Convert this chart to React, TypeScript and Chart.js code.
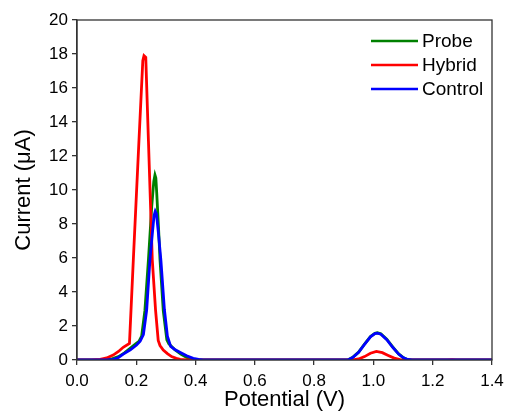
import React, { useEffect, useRef } from "react";
import { Chart, registerables } from "chart.js";

Chart.register(...registerables);

// ---- Data ----
const seriesNames = ["Probe", "Hybrid", "Control"];
const seriesColors = ["#008000", "#ff0000", "#0000ff"];

const probeX = [0, 0.05, 0.08, 0.10, 0.12, 0.14, 0.16, 0.18, 0.20, 0.209, 0.218, 0.229, 0.241, 0.252, 0.259, 0.263, 0.266, 0.269, 0.275, 0.28, 0.291, 0.303, 0.31, 0.33, 0.35, 0.37, 0.39, 0.41, 0.43, 0.9, 0.915, 0.93, 0.95, 0.97, 0.99, 1.005, 1.013, 1.025, 1.045, 1.065, 1.085, 1.10, 1.115, 1.13, 1.4];
const probeY = [0, 0, 0.01, 0.03, 0.08, 0.2, 0.42, 0.7, 0.98, 1.1, 1.4, 2.9, 5.9, 9.0, 10.5, 10.88, 10.7, 9.8, 7.8, 5.9, 2.9, 1.18, 0.95, 0.6, 0.35, 0.15, 0.05, 0.01, 0, 0, 0.02, 0.16, 0.46, 0.94, 1.38, 1.57, 1.6, 1.54, 1.22, 0.77, 0.36, 0.15, 0.03, 0, 0];

const hybridX = [0, 0.05, 0.078, 0.10, 0.122, 0.14, 0.156, 0.177, 0.19, 0.209, 0.222, 0.226, 0.232, 0.241, 0.254, 0.265, 0.274, 0.28, 0.291, 0.305, 0.319, 0.335, 0.348, 0.37, 0.39, 0.93, 0.95, 0.97, 0.99, 1.01, 1.03, 1.05, 1.07, 1.09, 1.10, 1.25, 1.265, 1.28, 1.4];
const hybridY = [0, 0.01, 0.04, 0.12, 0.29, 0.5, 0.75, 0.98, 5.88, 12.9, 17.6, 17.9, 17.8, 12.9, 5.88, 2.94, 1.15, 0.85, 0.59, 0.38, 0.2, 0.1, 0.04, 0.01, 0, 0, 0.06, 0.2, 0.4, 0.5, 0.43, 0.27, 0.11, 0.02, 0, 0, 0.02, 0, 0];

const controlX = [0, 0.08, 0.10, 0.123, 0.14, 0.156, 0.18, 0.201, 0.213, 0.224, 0.235, 0.246, 0.255, 0.26, 0.264, 0.268, 0.275, 0.283, 0.295, 0.305, 0.316, 0.33, 0.347, 0.37, 0.392, 0.41, 0.425, 0.9, 0.915, 0.93, 0.95, 0.97, 0.99, 1.005, 1.013, 1.025, 1.045, 1.065, 1.085, 1.10, 1.115, 1.13, 1.4];
const controlY = [0, 0, 0.01, 0.04, 0.15, 0.35, 0.6, 0.88, 1.1, 1.5, 2.94, 5.88, 7.6, 8.5, 8.75, 8.6, 7.4, 5.88, 2.94, 1.4, 0.8, 0.62, 0.46, 0.25, 0.1, 0.03, 0, 0, 0.02, 0.15, 0.45, 0.92, 1.36, 1.55, 1.58, 1.52, 1.2, 0.75, 0.35, 0.14, 0.03, 0, 0];

const xTicks = [0, 0.2, 0.4, 0.6, 0.8, 1.0, 1.2, 1.4];
const yTicks = [0, 2, 4, 6, 8, 10, 12, 14, 16, 18, 20];

const xTitle = "Potential (V)";
const yTitle = "Current (\u03bcA)";

const FONT = "Arial, 'Liberation Sans', sans-serif";

function pts(xs: number[], ys: number[]) {
  return xs.map((x, i) => ({ x, y: ys[i] }));
}

const framePlugin = {
  id: "frame",
  afterDraw(chart: any) {
    const { ctx, chartArea } = chart;
    ctx.save();
    ctx.strokeStyle = "#333";
    ctx.lineWidth = 1.3;
    ctx.strokeRect(chartArea.left, chartArea.top, chartArea.right - chartArea.left, chartArea.bottom - chartArea.top);
    ctx.restore();
  },
};

const legendPlugin = {
  id: "customLegend",
  afterDraw(chart: any) {
    const { ctx } = chart;
    ctx.save();
    ctx.font = `19px ${FONT}`;
    ctx.textBaseline = "middle";
    ctx.textAlign = "left";
    chart.data.datasets.forEach((ds: any, i: number) => {
      const y = 41 + i * 24;
      ctx.strokeStyle = ds.borderColor;
      ctx.lineWidth = 2.5;
      ctx.beginPath();
      ctx.moveTo(371, y);
      ctx.lineTo(418, y);
      ctx.stroke();
      ctx.fillStyle = "#000";
      ctx.fillText(ds.label, 422, y + 1);
    });
    ctx.restore();
  },
};

export default function App() {
  const ref = useRef<HTMLCanvasElement | null>(null);

  useEffect(() => {
    document.body.style.margin = "0";
    const canvas = ref.current;
    if (!canvas) return;
    const xsList = [probeX, hybridX, controlX];
    const ysList = [probeY, hybridY, controlY];
    const chart = new Chart(canvas, {
      type: "scatter",
      data: {
        datasets: seriesNames.map((name, i) => ({
          label: name,
          data: pts(xsList[i], ysList[i]),
          showLine: true,
          borderColor: seriesColors[i],
          backgroundColor: seriesColors[i],
          borderWidth: 2.8,
          pointRadius: 0,
          tension: 0,
          order: 2 - i,
        })),
      },
      options: {
        animation: false,
        responsive: false,
        devicePixelRatio: 1,
        layout: { padding: { top: 20, right: 13, left: 0, bottom: 0 } },
        plugins: {
          legend: { display: false },
          tooltip: { enabled: false },
        },
        scales: {
          x: {
            type: "linear",
            min: 0,
            max: 1.4,
            afterBuildTicks: (s: any) => {
              s.ticks = xTicks.map((v) => ({ value: v }));
            },
            afterFit: (s: any) => {
              s.height = 54;
              s.paddingLeft = 0;
              s.paddingRight = 0;
            },
            ticks: {
              color: "#000",
              font: { family: FONT, size: 17 },
              padding: 6,
              maxRotation: 0,
              callback: (v: any) => Number(v).toFixed(1),
            },
            grid: { drawOnChartArea: false, drawTicks: true, tickLength: 5, color: "#333", lineWidth: 1.3 },
            border: { display: true, color: "#333", width: 1.3 },
            title: { display: true, text: xTitle, color: "#000", font: { family: FONT, size: 22 }, padding: { top: 0, bottom: 1 } },
          },
          y: {
            type: "linear",
            min: 0,
            max: 20,
            afterBuildTicks: (s: any) => {
              s.ticks = yTicks.map((v) => ({ value: v }));
            },
            afterFit: (s: any) => {
              s.width = 77;
              s.paddingTop = 0;
              s.paddingBottom = 0;
            },
            ticks: {
              color: "#000",
              font: { family: FONT, size: 17 },
              padding: 4,
              callback: (v: any) => String(v),
            },
            grid: { drawOnChartArea: false, drawTicks: true, tickLength: 5, color: "#333", lineWidth: 1.3 },
            border: { display: true, color: "#333", width: 1.3 },
            title: { display: true, text: yTitle, color: "#000", font: { family: FONT, size: 22 }, padding: { top: 11, bottom: 0 } },
          },
        },
      },
      plugins: [framePlugin, legendPlugin],
    });
    return () => chart.destroy();
  }, []);

  return (
    <div style={{ width: 505, height: 414 }}>
      <canvas ref={ref} width={505} height={414} style={{ display: "block" }} />
    </div>
  );
}
